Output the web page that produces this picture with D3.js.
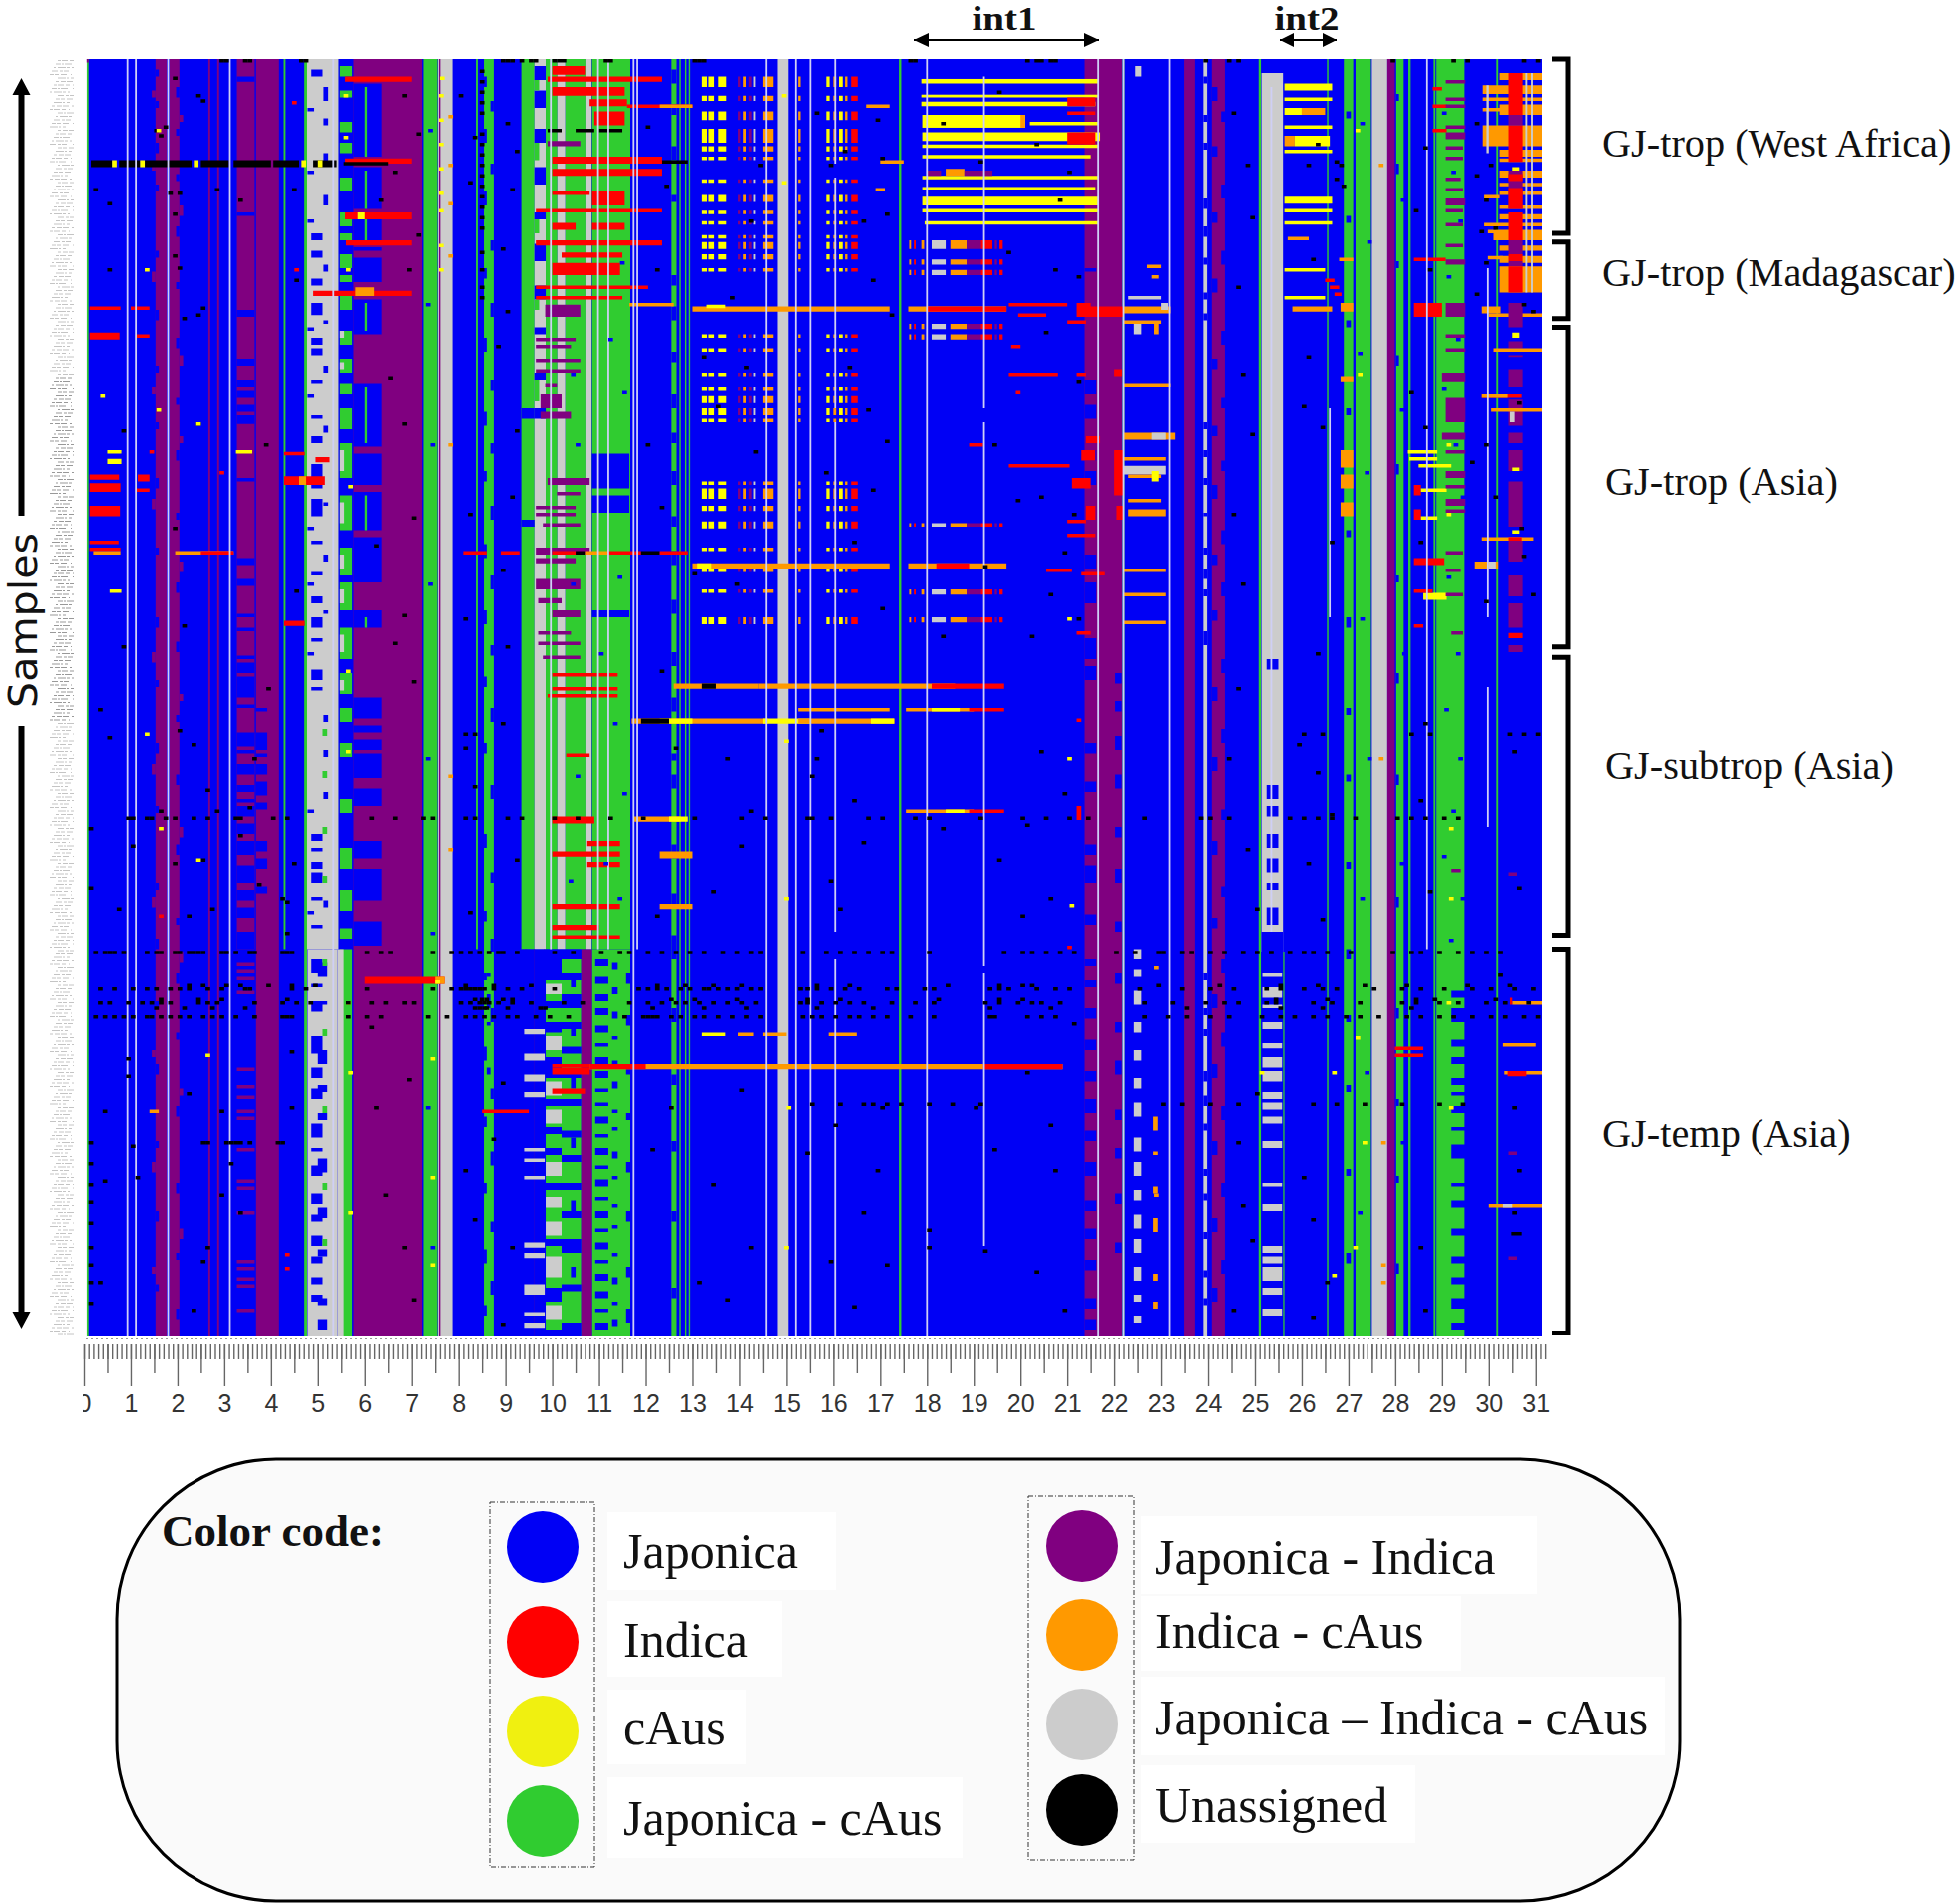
<!DOCTYPE html>
<html>
<head>
<meta charset="utf-8">
<script src="https://cdn.jsdelivr.net/npm/d3@7"></script>
<style>
  html, body { margin: 0; padding: 0; background: #fff; }
  svg { display: block; }
  .serif { font-family: "Liberation Serif", serif; fill: #111; }
</style>
</head>
<body>
<div id="chart"></div>
<script>
// ancestry classes
var categories = ["J", "I", "A", "JA", "JI", "IA", "G", "U"];
var categoryColors = ["#0000f5", "#ff0000", "#ffff00", "#30cc30", "#800080", "#ff9900", "#cccccc", "#000000"];
var legendLeft = ["Japonica", "Indica", "cAus", "Japonica - cAus"];
var legendLeftCodes = ["J", "I", "A", "JA"];
var legendRight = ["Japonica - Indica", "Indica - cAus", "Japonica \u2013 Indica - cAus", "Unassigned"];
var legendRightCodes = ["JI", "IA", "G", "U"];
var tickLabels = d3.range(0, 32);
var groupNames = ["GJ-trop (West Africa)", "GJ-trop (Madagascar)", "GJ-trop (Asia)", "GJ-subtrop (Asia)", "GJ-temp (Asia)"];
var groupRows = [[0, 50], [52.5, 74.5], [77, 168.5], [171.5, 251], [255, 365]];

// code, start Mb, end Mb, first row, last row
var columnBands = [
  ["JA",0.06,0.1,0,366],
  ["JI",1.53,1.77,0,366],["JI",1.83,2.04,0,366],
  ["JI",2.66,2.7,0,366],["JI",2.85,2.89,0,366],
  ["JI",3.27,3.65,0,255],["JI",3.68,4.17,0,366],
  ["JA",4.27,4.31,0,255],
  ["G",4.75,5.44,0,255],["G",4.78,5.42,255,366],["JA",4.71,4.77,0,366],
  ["JA",5.47,5.73,255,366],["G",5.42,5.55,255,366],
  ["JI",5.76,7.22,0,366],
  ["JA",7.25,7.55,0,366],["G",7.56,7.87,0,366],["JI",7.58,7.61,0,366],
  ["JA",8.37,8.41,0,255],["JA",8.54,8.75,0,366],
  ["JA",9.34,9.62,0,255],["G",9.62,9.86,0,255],["JA",9.86,10.11,0,255],["G",10.11,10.28,0,255],
  ["JA",10.28,10.71,0,255],["G",10.71,10.84,0,255],["JA",10.85,11.67,0,255],
  ["JA",10.85,11.67,255,366],
  ["JA",10.2,10.62,258,366],
  ["JI",9.42,9.45,255,366],["JI",9.6,9.63,255,366],["JI",9.82,9.85,255,366],["JI",10.62,10.85,255,366],
  ["JA",12.55,12.66,0,366],["JA",12.72,12.75,0,366],["JA",12.84,12.87,0,366],["JA",12.92,12.95,0,366],
  ["G",14.81,15.04,0,366],
  ["JA",17.4,17.45,0,366],
  ["JI",21.37,22.17,0,366],["JA",22.18,22.22,0,366],
  ["JI",23.49,23.72,0,366],["JI",24.08,24.36,0,366],
  ["G",25.14,25.6,4,256],["JA",25.08,25.13,0,366],["JA",25.6,25.63,256,366],
  ["JA",26.9,27.1,0,366],["JA",27.15,27.48,0,366],["G",27.5,27.83,0,366],["JI",27.83,27.99,0,366],
  ["JA",28.02,28.18,0,366],["JA",28.28,28.33,0,366],["JA",28.82,28.86,0,366],
  ["JA",28.88,29.48,0,366],["JA",30.16,30.2,0,366],["JA",26.54,26.57,0,366]
];

// code, start Mb, end Mb, then row pairs cut through the band
var columnCuts = [
  ["J",1.53,1.6,[3,5,12,14,24,27,36,38,55,57,72,75,88,90,104,106,120,123,140,142,160,163,178,180,196,199,214,216,236,238,252,255,270,272,288,291,310,312,330,333,351,353]],
  ["J",1.97,2.04,[8,11,20,22,33,35,48,51,64,66,80,83,97,99,112,115,130,132,150,153,167,170,188,190,205,208,225,228,246,248,262,265,279,281,300,303,322,325,342,344,358,361]],
  ["JI",1.45,1.53,[9,11,30,32,61,64,94,96,126,129,170,173,202,205,240,243,284,286,316,319,346,348]],
  ["JI",2.04,2.12,[16,18,42,45,85,88,108,110,144,147,182,184,220,223,256,259,295,297,335,338]],
  ["J",3.27,3.65,[5,6.5,44,45,72,74,86,88,92,94,95,97,99,101,102,104.5,120,121,143,145,149,151,159,160,163,164,171,172,173,176,177,183,185,186,193,197,198,199,202,205,208,210,212,213,214,217,219,222,224,228,231,236,238,241,243,246,250,255]],
  ["JI",3.27,3.65,[259,260,261,262,263,264,267,268,289,290,294,295,297,298,301,302,303,304,312,313,321,322,323,324,330,331,344,345,346,347,349,350,351,352,358,359]],
  ["J",3.68,3.92,[186,187,193,198,199,200,202,205,207,211,213,215,224,227,229,232,237,239]],
  ["J",4.86,5.1,[3,5,50,52,55,57,63,65,70,73.5,80,82,83,85,92,93,102,103,108,110,116,123,126,131,138,139,147,148,154,156,160,163,166,167,175,178,180,181,222,224,226,227,230,232,233,236,240,241,248,249,258,262,265,266,270,273,280,285,289,292,295,298,305,309,312,313,317,320,325,328,331,333,337,340,343,345,349,351,354,356]],
  ["J",5.0,5.2,[259,263,270,271,284,288,294,296,302,304,315,319,329,332,341,343,355,357,361,364]],
  ["J",4.78,4.92,[14,15,32,33,46,47,77,78,96,97,134,135,150,151,170,171,215,216,244,245]],
  ["J",5.12,5.22,[8,12,17,19,27,30,39,42,59,61,75,76,88,90,105,107,127,128,142,144,158,159,188,190,198,200,210,212,241,243]],
  ["JA",5.1,5.2,[192,194,204,206,220,222,234,236,258,260,278,280,300,302,322,324,338,340]],
  ["JA",5.47,5.73,[2,5,9,11,18,21,24,27,34,38,44,48,50,52,56,60,62,64,68,72,78,82,86,90,93,96,100,106,110,120,125,135,140,148,150,158,163,172,176,182,186,190,196,200,212,216,226,232,238,244,249,252]],
  ["G",5.47,5.56,[78,80,87,89,112,118,127,133,142,146,152,156,165,170,178,181]],
  ["J",5.76,6.36,[7,28,31,43,46,52,54,55,57,64,69,79,93,111,113,122,124,135,137,150,158,163,183,189,191,193,195,198,199,206,209,214,224,229,232,241,247,254]],
  ["JA",6.0,6.05,[8,28,32,43,46,52,70,78,94,110,125,135,160,163]],
  ["J",8.54,8.6,[5,8,20,24,38,42,60,63,80,84,101,105,118,121,139,143,158,162,177,180,196,199,222,226,244,247,262,264,283,287,303,306,322,325,341,345,357,360]],
  ["J",8.68,8.75,[12,15,30,33,52,55,70,74,92,95,110,113,128,132,148,152,168,171,186,190,208,212,233,236,252,256,272,276,295,298,313,317,333,336,350,354]],
  ["J",8.6,8.68,[262,263,268,272,276,277,289,291]],
  ["J",9.34,9.62,[100,103,132,134,255,366]],
  ["J",9.62,9.86,[2,6,9,14,20,24,31,36,44,46,53,58,65,69,77,79,90,92,100,103,255,366]],
  ["JA",9.62,9.72,[6,9,24,29,46,50,69,72,92,98]],
  ["J",9.86,10.2,[255,264,270,272,276,279,286,292,298,300,306,308,312,314,322,324,338,340,352,356,364,366]],
  ["J",10.2,10.62,[255,258,262,264,268,272,276,278,283,285,290,292,298,300,307,309,314,316,322,324,330,332,338,342,351,353,362,366]],
  ["JA",9.86,10.2,[264,270,272,276,279,286,292,298,300,306,308,312,314,322,324,338,340,352,356,364]],
  ["G",9.86,10.2,[265,268,280,284,293,297,301,305,316,320,326,329,333,337,343,349,357,361]],
  ["G",9.4,9.84,[278,279.5,285,287,291,293,296,297.5,312,313,315,316,320,321,339,340.5,342,343.5,351,354,359,360,362,363.5]],
  ["J",10.4,10.5,[262,266,277,280,291,295,309,312,327,330,346,349]],
  ["J",10.85,11.65,[113,123,125,130,158,160]],
  ["J",10.92,11.2,[258,260,263,265,268,270,272,274,277,279,282,283,286,288,290,292,295,296,299,300,303,305,308,309,312,314,317,318,321,323,326,327,330,332,335,336,339,341,344,345,348,350,353,355,358,359,362,364]],
  ["J",11.28,11.4,[259,261,266,268,273,275,280,281,287,288,293,295,301,302,306,307,313,315,320,321,328,329,334,335,342,343,349,351,356,357,361,363]],
  ["J",11.58,11.67,[262,265,274,277,288,291,302,304,316,319,330,333,346,349,358,362]],
  ["J",12.55,12.66,[3,7,13,16,25,29,39,41,62,65,71,75,84,87,96,100,107,110,118,122,131,134,141,145,155,159,170,174,183,187,199,201,205,209,225,229,239,243,251,258,272,276,291,294,310,313,330,333,352,355]],
  ["G",22.42,22.58,[255,258,261,263,267,271,276,279,284,287,292,295,299,303,309,313,316,320,324,327,331,335,338,342,346,350,354,356,360,362]],
  ["G",23.9,23.98,[0,366]],
  ["J",23.9,23.98,[5,7,16,18,24,26,40,43,48,51,57,59,67,69,73,75,104,106,112,114,120,122,130,131,140,142,146,149,152,154,164,168,262,264,272,274,278,280,290,293,297,300,305,307,318,320,325,327,336,338,347,349,355,357]],
  ["J",24.08,24.2,[8,12,25,28,44,47,63,67,86,89,105,108,122,126,142,145,158,161,180,184,200,204,224,228,246,249,268,272,288,292,310,314,332,336,352,356]],
  ["J",24.28,24.36,[15,18,36,40,55,59,78,82,97,100,115,118,135,139,150,154,172,176,192,196,215,218,237,240,258,262,279,283,300,304,322,326,344,348]],
  ["J",25.14,25.6,[0,4,250,366]],
  ["J",25.25,25.5,[172,175,208,212,214,217,222,226,229,233,236,238,243,248]],
  ["G",25.16,25.58,[262,263,266,269,271,272,276,278,282,283.5,286,289,290,293,296,298,299,301,303,305,310,312,322,323,328,330,340,342,343,345,346,350,352,354,358,360]],
  ["J",29.2,29.5,[267,269,272,276,281,283,286,288,292,294,296,297,300,302,306,307,311,315,322,323,327,329,335,337,343,345,349,351,355,358,362,364]],
  ["J",21.37,21.62,[60,61,92,96,99,103,112,115,118,122,142,146,150,156,166,172,174,178,196,199,207,210,225,228,231,236,245,248,258,260,264,266,272,275,281,284,290,293,298,302,307,310,316,320,327,330,335,338,344,347,355,358,361,364]],
  ["J",22.02,22.16,[176,179,184,187,194,198,205,209,220,223,232,236,247,250,262,265,276,279,287,291,301,304,312,315,325,328,339,342]],
  ["J",26.95,27.05,[15,17,45,47,75,77,100,102,135,137,160,163,186,188,205,207,230,232,255,258,274,276,294,296,318,320,342,345]],
  ["J",28.02,28.08,[10,12,30,33,58,60,85,88,116,119,148,150,176,179,205,208,240,243,272,275,298,300,320,322,345,348]]
];

// code, start Mb, end Mb, first row, last row
var rowStreaks = [
  ["I",0.12,0.78,71,72],["I",0.12,0.76,78.5,80.5],["I",0.12,0.75,119,120.5],["I",0.12,0.78,121.5,124],["I",0.12,0.77,128,131],
  ["I",0.12,0.74,138,139],["I",0.12,0.78,140,141],["IA",0.2,0.78,141,142],["A",0.5,0.8,112,113],["A",0.5,0.8,114.5,116],["A",0.55,0.8,152,153],
  ["I",1.0,1.4,71,72],["I",1.1,1.4,79,80],["I",1.1,1.4,123,124],["I",1.15,1.4,119,121],
  ["IA",1.95,3.2,141,142],["I",2.5,3.2,141,142],["A",3.25,3.6,112,113],
  ["I",4.28,4.72,112.5,113.5],["I",4.28,5.15,119.5,122],["IA",4.6,4.75,119.5,122],["I",4.28,4.72,161,162.5],["I",4.95,5.25,114,115.5],
  ["I",5.58,7.0,5,6.5],["I",5.58,7.0,28.5,30],["I",5.58,7.0,44,46],["A",5.85,6.0,44,46],["I",5.6,7.0,52,53.5],
  ["I",4.9,7.0,66.5,68],["IA",5.8,6.2,65.5,68],
  ["U",0.15,0.6,29,31],["U",0.75,1.2,29,31],["U",1.3,2.3,29,31],["U",2.5,3.1,29,31],["U",3.2,4.0,29,31],["U",4.05,4.6,29,31],["U",4.9,5.4,29,31],["U",5.55,6.5,29.5,30.5],["U",11.6,12.9,29,30],
  ["A",0.6,0.7,29,31],["A",1.2,1.3,29,31],["A",2.35,2.45,29,31],["A",4.65,4.75,29,31],["A",5.0,5.1,29,31],
  ["I",10.0,10.7,2,4.5],["I",9.9,12.35,5,6.5],["I",10.0,11.55,8,10.5],["I",10.8,11.6,11.5,13.5],["I",11.6,13.0,13,14],
  ["IA",12.3,13.0,13,14],["I",10.9,11.55,15,19],["U",9.9,10.2,20,21],["U",10.5,10.9,20,21],["U",11.0,11.5,20,21],
  ["I",10.0,12.35,28,30],["I",10.0,12.35,31.5,33.5],["I",10.0,10.8,38,39],["I",10.85,11.55,38,42],["I",9.65,12.35,43,44],
  ["I",10.0,10.5,47,49],["I",10.85,11.55,47,49],["I",9.65,12.35,52,53.5],["I",10.2,11.5,55.5,57],
  ["I",10.0,11.45,58.5,62],["I",9.65,12.05,65,66],["I",9.65,11.5,68,69],["IA",11.65,12.6,70,71],
  ["JI",9.9,10.6,23.5,25],["JI",9.85,10.6,70.5,74],["JI",9.65,10.5,80,81],["JI",9.65,10.4,82,83],["JI",9.65,10.6,86,87],["JI",9.65,10.6,89,90],
  ["JI",9.85,10.1,93,94],["JI",9.75,10.2,96,100],["JI",9.75,10.4,101,103],["JI",9.9,10.8,120,122],["JI",10.1,10.6,124,125],["JI",9.65,10.5,128,129],
  ["JI",9.65,10.5,130,131],["JI",9.8,10.6,133,134],["JI",9.65,10.8,140,142],["JI",9.65,10.5,143,144.5],["JI",9.65,10.6,149,152],["JI",9.7,10.2,154.5,156],
  ["JI",10.0,10.6,158,160],["JI",9.7,10.4,164,165],["JI",9.7,10.6,167,168],["JI",9.8,10.6,171,172],
  ["I",10.0,11.4,176,177],["I",10.0,11.4,180,181],["I",9.9,11.4,182,183],["I",10.3,10.8,199,200],
  ["I",10.0,10.9,217,219],["I",10.75,11.45,224,225.5],["I",10.0,11.45,227,228.5],["I",10.75,11.45,230,231.5],["I",10.0,11.45,242,243.5],["I",10.0,11.0,248,249.5],["I",10.0,11.45,251,252],
  ["I",8.1,8.6,141,142],["I",8.9,9.3,141,142],["I",10.0,10.5,141,142],["U",10.5,10.7,141,142],["IA",10.7,11.2,141,142],["I",11.2,11.9,141,142],["U",11.9,12.3,141,142],["I",12.3,12.9,141,142],
  ["I",6.0,7.7,263,265],["IA",7.5,7.7,263,265],["I",10.0,10.8,289,291],["I",10.0,11.4,288,289],["I",10.0,10.7,295,296.5],
  ["I",8.5,9.5,301,302],["IA",1.4,1.6,301,302],
  ["IA",10.8,20.9,288,289.5],["I",19.2,20.9,288,289.5],["I",10.8,12.0,288,289.5],
  ["IA",11.7,14.6,189,190.5],["A",12.3,13,189,190.5],["U",11.9,12.5,189,190.5],["A",14.5,15.5,189,190.5],["IA",15.25,17.3,189,190.5],["A",16.8,17.3,189,190.5],
  ["IA",11.75,12.75,217,218.5],["A",12.5,12.9,217,218.5],["IA",12.3,13.0,227,229],["IA",12.3,13.0,242,243.5],
  ["IA",13.0,17.2,71,72.5],["IA",17.6,19.7,71,72.5],["I",18,19.7,71,72.5],["A",13.3,13.7,70.5,71.5],
  ["IA",13.0,17.2,144.5,146],["IA",17.6,19.7,144.5,146],["I",18.2,18.9,144.5,146],["A",13.1,13.4,144.5,146],
  ["IA",12.6,14.4,179,180.5],["IA",14.4,18.6,179,180.5],["I",18.1,19.65,179,180.5],["U",13.2,13.5,179,180.5],
  ["IA",17.55,19.0,186,187],["I",18.9,19.65,186,187],["A",18.1,18.7,186,187],
  ["IA",17.55,19.0,215,216],["I",18.9,19.65,215,216],["A",18.4,18.8,215,216],["IA",15.25,17.2,186,187],
  ["IA",13.97,14.3,279,280],["A",13.2,13.7,279,280],["IA",14.5,15,279,280],["IA",15.9,16.5,279,280],
  ["A",17.88,21.66,5.7,7],["A",17.88,21.66,10.2,11],["A",17.88,21.6,12.2,13.5],["A",17.9,20.1,16,19.7],["IA",20.0,20.1,16,19.7],["A",20.2,21.66,18,19],
  ["A",17.9,21.7,21,23.5],["A",17.9,21.66,24.5,25.5],["A",17.9,21.5,27.5,28.5],["A",17.9,21.66,33.5,34.5],["A",17.9,21.6,36.7,37.5],
  ["A",17.9,21.66,39.5,42],["A",17.9,21.66,43,44],["A",17.95,21.66,46.5,47.5],
  ["I",21.0,21.6,11,13.5],["I",21.0,21.6,15,16],["I",21.0,21.6,21,24.5],["JI",18.0,18.3,32,33.5],["IA",18.4,18.8,31.5,33.5],["JI",18.8,19.4,32,33.5],
  ["IA",16.7,17.2,13,14],["IA",17.0,17.5,29,30],["IA",16.9,17.1,37,38],
  ["I",19.75,21.0,70,71],["I",19.95,20.55,73,74],["I",19.8,20.0,82,83],["I",19.75,20.8,90,91],["I",19.9,20.0,95,96],["I",18.9,19.2,110,111],
  ["I",19.75,21.05,116,117],["I",21.2,21.5,70,74],["I",21.0,21.4,75,76],["I",21.4,22.2,71,74],
  ["I",21.2,21.4,90,91],["I",22.0,22.17,89,91],["I",21.4,21.7,108,110],["I",21.3,21.6,112,115],["I",22.0,22.2,112,125],["I",21.1,21.5,120,123],["I",21.4,21.6,128,132],["I",22.05,22.2,128,132],
  ["I",21.0,21.4,132,133],["I",21.0,21.6,136,137],["I",20.55,21.1,146,147],["I",21.3,21.8,147,148],["I",21.2,21.5,164,165],
  ["I",21.0,21.1,254,255],["I",21.2,21.3,189,190],["I",21.2,21.3,214,218],
  ["IA",22.2,23.2,71,73],["G",23.0,23.15,70,72],["IA",22.2,23.0,75,76],["IA",22.2,23.2,93,94],["IA",22.2,23.3,107,109],["G",22.8,23.1,107,109],["IA",22.2,23.1,114,115],
  ["G",22.2,23.1,116.5,119],["IA",22.3,23.0,119,120],["A",22.8,22.95,118,121],["IA",22.3,23.0,126,127],["IA",22.3,23.1,129,131],["IA",22.2,23.1,146,147],["IA",22.2,23.1,153,154],["IA",22.2,23.1,161,162],
  ["G",22.42,22.58,76,79],["IA",22.85,22.95,76,79],["IA",22.7,23.0,59,60],["IA",22.8,22.95,62,63],["G",22.3,23.0,68,69],["G",22.45,22.58,2,5],
  ["IA",22.85,22.95,260,261],["IA",22.85,22.95,325,326],["IA",22.83,22.93,303,307],["IA",22.83,22.93,313,314],["IA",22.83,22.93,323,325],["IA",22.83,22.93,332,336],["IA",22.83,22.93,348,350],["IA",22.83,22.93,356,358],
  ["A",25.63,26.65,7,9],["A",25.63,26.65,11,12],["A",25.63,26.0,14,16],["IA",26.0,26.5,14,16],["A",25.63,26.65,19,20],["IA",25.63,25.85,22,25],["A",25.85,26.6,22,25],["A",25.63,26.65,26,27],
  ["A",25.63,26.65,39.5,41.5],["A",25.63,26.65,43,44],["A",25.63,26.65,46.5,47.5],["IA",25.7,26.15,51,52],["A",25.63,26.5,60,61],["A",25.63,26.5,68,69],["IA",25.8,26.65,71,72.5],
  ["I",26.5,26.7,63,64],["I",26.6,26.8,65,66],["I",26.7,26.85,67,68],
  ["IA",26.83,27.1,70,72.5],["IA",26.83,27.1,91,92.5],["IA",26.83,27.1,112,117],["IA",26.83,27.1,119,123],["IA",26.83,27.1,127,131],["IA",26.8,27.1,57,58],
  ["I",28.4,29.08,57,58],["I",28.4,29.0,70,74],["I",28.95,29.0,72,73],["JI",29.08,29.5,70,74],["I",28.4,29.05,143,145],
  ["A",28.27,28.9,112,113],["A",28.3,28.9,114,115],["A",28.5,29.2,116,117],["I",28.4,28.55,122,125],["A",28.55,29.1,123,124],
  ["I",28.4,28.55,129,132],["A",28.55,28.9,131,132],["A",28.6,29.1,153,155],["I",28.4,28.8,152,153],["I",28.4,28.6,162,163],
  ["I",28.8,29.0,8,9],["I",28.8,29.1,13,14],["I",28.8,29.1,20,21],
  ["JI",29.08,29.5,6,7],["JI",29.08,29.5,11,12],["JI",29.08,29.5,13,14],["JI",29.08,29.5,19,20],["JI",29.08,29.5,21,23],["JI",29.08,29.45,25,26],["JI",29.08,29.45,28,29],["JI",29.08,29.4,34,35],["JI",29.08,29.45,37,38],["JI",29.08,29.5,40,42],["JI",29.08,29.45,43,44],["JI",29.08,29.45,47,48],["JI",29.08,29.45,53,54],["JI",29.08,29.5,57.5,59],
  ["JI",29.08,29.5,79,80],["JI",29.08,29.5,83,84],["JI",29.0,29.5,90,92.5],["JI",29.08,29.5,97,104],["JI",29,29.5,107,109],["JI",29.08,29.5,112,113],["JI",29.08,29.5,118,120],["JI",29.08,29.5,122,123],["JI",29.08,29.5,126,128],["JI",29.08,29.5,129,130],["JI",29.08,29.45,141,142],["JI",29.08,29.4,146,147],["JI",29.08,29.45,153,154],["JI",29.2,29.45,164,165],["JI",29.2,29.4,232,233],
  ["IA",30.23,31.14,4,6],["IA",29.87,31.14,7.5,10],["IA",29.87,31.14,11,12],["IA",30.23,31.14,13,16],["IA",29.87,30.3,14,15],
  ["IA",29.87,31.14,19,25],["IA",30.23,31.14,26,28],["IA",30.23,31.14,28.5,29.5],["IA",30.23,31.14,32,34],["IA",30.23,31.14,35.5,36.5],["IA",30.23,31.14,38,39],["IA",29.9,30.23,39,40],
  ["IA",30.23,31.14,42,43],["IA",30.23,31.14,44.5,46],["IA",29.9,31.14,47,48],["IA",29.98,31.14,49,50],["IA",30.1,31.14,50,52],["IA",30.23,31.14,53.5,55],["IA",30.23,31.14,56.5,58.5],["IA",29.98,30.3,56.5,57.5],["IA",30.23,31.14,59.5,67],
  ["G",30.78,30.82,4,67],["G",30.9,30.94,4,67],["G",29.95,30.0,7.5,27],
  ["IA",30.0,31.14,73,74],["IA",29.85,30.25,71,73],["I",30.42,30.72,4,16],["I",30.42,30.72,19,28],["JI",30.42,30.72,16,19],["I",30.42,30.72,28,29.5],
  ["JI",30.42,30.72,32,43],["I",30.42,30.72,33,35],["I",30.42,30.72,37,43],["I",30.42,30.72,44,52],["JI",30.42,30.72,52,56],["I",30.42,30.72,56,58],["JI",30.42,30.72,58,59.5],["I",30.42,30.72,59.5,67],
  ["A",30.5,30.65,31,32],["JI",30.42,30.72,70,77],["JI",30.42,30.72,81,83],["JI",30.42,30.72,85,85.5],["JI",30.42,30.72,89,94],["JI",30.42,30.72,97.5,105],["JI",30.42,30.72,107,110],["JI",30.42,30.72,112,118],["JI",30.42,30.72,121,134],["JI",30.42,30.72,137,144],["JI",30.42,30.72,148,154],["JI",30.42,30.72,156,163],["I",30.42,30.72,164.5,166],["JI",30.42,30.72,168,170],
  ["IA",30.1,31.14,83,84],["I",29.85,30.7,96,97],["IA",29.85,30.4,96,97],["IA",30.05,31.14,100,101],["A",30.5,30.65,78.5,80],["G",30.45,30.55,101,104],["A",30.5,30.65,117,118],
  ["IA",29.85,30.95,137,138],["I",30.42,30.7,137,138],["IA",29.7,30.2,144,146],["G",30.0,30.15,144,146],["A",30.5,30.65,135,136],
  ["IA",30.5,31.14,270,271],["IA",30.3,31.0,282,283],["I",30.42,30.8,290,291],["IA",30.33,31.14,290,291],["I",30.4,30.8,290,291.5],["IA",30.0,31.14,328,329],["G",30.3,30.5,328,329],
  ["U",30.48,30.7,336,337],["I",30.45,30.5,269,271],["JI",30.42,30.6,233,234],["JI",30.42,30.6,313,314],["JI",30.42,30.6,343,344],
  ["I",27.99,28.6,283,284],["I",27.99,28.6,285,286]
];

// rows that repeat the same run of short pieces
var motifAPieces = [["A",13.2,13.31],["A",13.34,13.46],["A",13.55,13.72],["JI",13.97,14.02],["IA",14.08,14.14],["JI",14.2,14.26],["G",14.3,14.34],["IA",14.5,14.72],["IA",15.25,15.3],["A",15.85,15.92],["IA",16,16.06],["A",16.12,16.2],["IA",16.25,16.3],["I",16.38,16.52]];
var motifARows = [[5,8],[10.5,12],[15,17.5],[20,24],[25,26.5],[28,29],[34.5,35.5],[39,41],[43.5,44.5],[46.5,47.5],[50.5,51.5],[52.5,54.5],[56,57.5],[60,61],[79,80],[83,84],[90,91],[94,95],[96.5,98.5],[100,102],[103,104],[121,122],[123,126],[128,129.5],[132.5,134.5],[140,141],[145,147],[152,153],[160,162]];
var motifBPieces = [["IA",17.62,17.66],["I",17.72,17.76],["IA",17.88,17.94],["G",18.1,18.4],["IA",18.5,18.85],["JI",18.85,19.15],["I",19.15,19.4],["JI",19.45,19.5],["I",19.55,19.62]];
var motifBRows = [[52,54.5],[57.5,59],[60.5,62],[76,77.5],[79,80.5],[133,134],[152,153.5],[160,161.5]];

// pale thin lines: Mb, first row, last row
var paleLines = [[0.93,0,366],[1.11,0,366],[1.8,0,366],[3.12,0,366],[5.33,0,366],[11.74,0,366],[11.82,0,255],[14.57,0,366],[15.2,0,366],[15.51,0,366],[16.04,0,30],[16.04,34,100],[16.04,104,250],[16.04,258,366],[18,0,366],[19.22,5,100],[19.22,104,260],[19.22,262,340],[21.66,0,366],[22.2,0,366],[23.18,0,366],[29.98,60,160],[29.98,180,220],[25.35,8,250],[26.6,100,160],[9.97,0,255],[10.98,0,255],[11.2,0,255],[28.68,0,255]];

// black dots: Mb, row
var blackSpecks = [[2.4,10],[2.5,11.5],[1.9,5],[1.5,20],[1.7,19],[1.6,21.5],[2.0,38],[1.8,38],[0.5,41],[3.3,40],[2.8,37],[1.9,44],[1.9,56],[2,59.5],[0.5,60],[4.5,63],[2.4,73],[2.1,74],[2.5,71],[4.45,37],[0.2,37],[3.85,110],[2.4,104],[0.8,106],[2.1,162],[1.9,134],[3.9,180],[4.5,152],[0.8,168],
[0.3,186],[0.5,194],[2.0,192],[1.6,215],[2.3,196],[3.6,200],[2.8,215],[1.0,225],[1.9,230],[2.5,229],[3.3,222],[4.45,230],[4.2,240],[0.7,243],[3.7,236],[2.6,209],[4.3,241],[2.2,245],[3.5,214],[2.7,243],[4.3,250],
[0.1,220],[0.1,237],[0.1,310],[0.1,316],[0.1,322],[0.1,327],[0.1,333],[0.1,340],[0.1,345],[0.1,350],[0.1,356],[0.9,286],[0.9,291],[1.0,311],[1.1,320],[2.2,296],[2.6,310],[2.9,325],[2.5,344],[2.3,358],[0.4,301],[0.4,321],[0.3,350],[4.4,284],[4.4,300],[3.3,330],[2.9,301],[3.1,316],[2.6,340],
[6.8,10],[7.1,21],[6.6,32],[6.3,40],[6.9,60],[7.1,50],[6.5,91],[6.8,104],[7.0,131],[6.2,139],[6.6,167],[6.8,159],[7.0,178],[6.2,300],[6.4,325],[6.8,340],[7.0,355],[6.1,277],[6.9,292],
[8.0,10],[8.3,22],[8.2,35],[9.0,18],[9.1,37],[8.9,54],[9.2,26],[9.0,72],[8.8,82],[9.2,106],[8.2,130],[8.1,160],[9.1,125],[8.9,146],[9.0,168],[8.1,197],[8.3,208],[8.9,190],[9.2,229],[8.2,244],[8.1,318],[8.3,332],[9.1,340],[8.9,362],[8.7,309],[8.9,293],
[8.45,3],[8.45,6],[8.45,9],[8.45,12],[8.45,15],[8.45,21],[8.45,24],[8.45,27],[8.45,30],[8.45,33],[8.45,36],[8.45,39],[8.45,42],[8.45,45],[8.45,48],[8.45,55],[8.45,60],[8.45,65],[8.45,68],
[12.0,19],[12.4,36],[12.2,60],[13.2,85],[13.5,99],[12.0,110],[12.3,128],[13.0,147],[14.2,46],[14.4,30],[13.8,68],[14.1,88],[14.3,112],[12.3,175],[13.9,150],[12.6,197],[13.7,200],[14.2,215],[12.2,245],[13.4,238],[14.0,225],[12.5,300],[13.4,322],[14.2,340],[12.1,312],[13.1,350],[14.0,295],[13.7,355],
[15.6,15],[15.9,30],[16.2,26],[16.6,46],[16.9,17],[17.0,28],[17.1,44],[16.8,63],[17.2,73],[16.3,88],[16.7,100],[17.1,109],[15.8,118],[16.8,123],[16.4,138],[17.0,157],[15.5,205],[15.7,192],[16.4,212],[16.6,224],[15.9,235],[16.1,243],[15.6,200],[16.0,305],[15.4,313],[16.6,330],[15.9,344],[16.4,357],[17.0,300],[16.9,318],[17.1,345],
[18.3,18],[19.1,29],[19.5,9],[20.3,24],[21.0,32],[20.8,40],[19.4,110],[19.9,126],[21.1,130],[20.9,141],[21.2,92],[21.2,62],[20.5,78],[20.7,60],[19.7,55],[20.4,125],[19.2,145],[18.3,165],[20.2,165],[20.6,153],[21.2,160],[20.9,210],[20.4,198],[20.1,219],[19.5,229],[20,245],[18.3,220],[20.6,240],[20.1,290],[19,300],[19.4,312],[20.6,305],[20.7,318],[19.2,341],[20.3,347],[20.9,358],[21.1,276],[18.0,340],[18.0,335],
[24.5,15],[24.8,30],[24.9,45],[24.6,65],[24.7,90],[24.9,107],[24.5,130],[24.7,150],[24.6,180],[24.4,200],[24.8,226],[25.0,243],[24.6,310],[24.7,328],[24.9,338],[24.5,358],[25.0,296],
[26.1,30],[26.3,24],[26.7,34],[26.2,57],[26.0,99],[26.4,105],[26.1,85],[26.6,138],[26.3,170],[25.9,196],[26.3,204],[26.6,216],[26.1,230],[26.4,246],[26.0,320],[26.2,332],[26.5,350],[26.2,360],[26.7,29],[26.8,30],[26.85,36],
[28.6,25],[28.4,43],[28.7,60],[28.3,95],[28.6,105],[28.5,138],[28.6,190],[28.5,212],[28.7,238],[28.5,340],[28.6,358],[29.7,18],[29.7,33],[29.9,40],[30,30],[29.8,49],[30.1,48],[29.9,58],[29.7,67],[30.9,72],[30.7,70],[30.6,98],[30.7,142],[30.9,153],[30.65,134],[30.5,198],[30.6,237],[30.2,262],[30.5,300],[30.6,318],[30.5,330],[29.9,110],[30.1,125],[29.9,155],[29.6,115]
];
// other dots: code, Mb, row
var colorSpecks = [["A",1.55,20],["A",1.55,100],["A",0.35,96],["A",2.4,104],["I",1.4,112],["I",2.9,118],["I",4.45,12],["I",4.5,60],["A",1.3,60],["A",1.6,220],["I",1.6,245],["A",2.4,229],["A",1.3,193],["A",2.6,285],["I",4.3,342],["I",4.3,346],
["A",7.6,5],["A",7.58,10],["A",7.58,17],["A",7.58,24],["A",7.58,31],["A",7.58,38],["A",7.58,43],["A",7.58,53],["A",7.58,60],["IA",7.78,16],["IA",7.78,30],["IA",7.78,41],["IA",7.78,56],["IA",7.78,110],["IA",7.78,205],["IA",7.78,226],["A",7.4,320],["A",7.4,345],["A",7.4,286],["A",7.5,264],
["A",5.55,10],["A",5.55,22],["A",5.6,60],["A",5.65,122],["A",5.6,175],["A",5.6,198],["A",5.6,270],["A",5.65,290],["A",5.65,330],
["A",14.9,10],["A",14.9,35],["A",14.95,195],["A",14.95,240],["A",15,300],["A",14.95,340],["A",27.15,20],["A",27.2,90],["A",27.15,280],["A",27.3,310],["A",27.1,340],["IA",27.65,30],["IA",27.65,200],["IA",27.7,310],["IA",27.7,345],["IA",27.7,350],["A",29.1,110],["A",29.1,130],["A",29.15,220],["A",29.15,240],["A",29.1,270],["A",29.15,300],["A",26.65,290],["A",26.65,348],["A",25.1,290],["A",21.0,200],["A",21.05,242],["A",21,160],
["J",29.0,15],["J",29.2,32],["J",29.35,46],["J",29.1,62],["J",29.3,80],["J",29.0,94],["J",29.25,110],["J",29.4,125],["J",29.1,148],["J",29.3,170],["J",29.05,186],["J",29.35,200],["J",29.2,215],["J",29.0,228],["J",29.4,240],["J",29.15,252],
["J",27.25,18],["J",27.4,52],["J",27.2,84],["J",27.35,118],["J",27.25,160],["J",27.4,200],["J",27.25,240],["J",27.35,290],["J",27.2,330],["J",28.12,40],["J",28.1,100],["J",28.15,170],["J",28.1,230],["J",28.12,310],
["J",10.4,90],["J",10.5,110],["J",10.4,150],["J",11.0,170],["J",11.3,190],["J",11.5,210],["J",10.5,205],["J",11.1,230],["J",11.4,240],["J",10.35,235],["J",11.5,95],["J",11.2,80],["J",11.45,58],["J",11.4,148],
["J",7.35,20],["J",7.3,70],["J",7.4,110],["J",7.35,150],["J",7.3,200],["J",7.4,250],["J",7.3,300],["J",7.4,340],
["JI",0.0,0]];

// rows peppered with black across the whole window: row, Mb of each dot
var noisyRows = [
  [0,[2.9,3.0,3.4,3.5,4.6,4.7,8.9,9,9.1,9.3,9.5,9.6,10,10.1,10.2,11.1,11.2,13.0,13.1,13.2,17.6,17.7,20.1,20.3,20.4,20.6,20.7,23.9,24.4,24.6,27.9,29.2,29.5,30.7,31]],
  [255.5,[0.2,0.4,0.5,0.6,0.8,1.3,1.5,1.6,1.9,2.0,2.2,2.3,2.4,2.5,2.9,3.0,3.2,3.5,3.6,4.2,4.3,4.4,6.0,6.3,6.5,7.4,7.8,8,8.2,8.4,8.6,8.8,8.9,9.2,10,10.4,11,11.4,11.6,12,12.3,12.6,12.9,13.2,13.6,13.9,14.2,14.4,15.3,15.8,16.1,16.4,16.7,17.0,17.2,18.0,19.6,20,20.2,20.5,20.8,21.1,22,22.4,22.9,23,23.4,23.6,24,24.3,24.7,25,25.3,25.7,26,26.2,26.5,27,27.9,28.3,28.5,28.9,29.3,29.6,29.9,30.2]],
  [265,[2.2,2.5,3.0,3.3,3.9,4.4,4.9,8.1,8.7,9.5,12.2,12.8,13.4,14,15.6,16.3,18.4,19.5,20,20.2,22.9,24.2,25.5,26.3,27.3,28.2,29.5,30.4]],
  [266,[0.3,0.6,1.0,1.3,1.5,1.8,2.0,2.2,2.6,2.9,3.4,3.5,4.4,4.7,6.0,7.4,7.8,8.0,8.1,8.2,8.3,8.4,8.5,8.7,9.0,9.3,10.0,11.8,12,12.2,12.4,12.7,12.9,13.2,13.3,13.5,13.7,13.9,14.2,14.4,15.25,15.4,15.6,15.9,16.2,16.5,17.1,17.3,17.9,18.1,19.3,19.5,19.7,20.3,20.7,21.0,22.5,23.4,24,24.5,25.2,25.5,26,26.4,26.7,27.5,28.1,28.5,29,29.6,30,30.5,30.9]],
  [269,[1.6,2.4,2.9,4.3,8.3,8.45,8.55,8.9,9.1,12.5,13,13.9,15.4,16.1,18.2,19.5,20,25.4,26.5,28.4,28.8,30.1]],
  [270,[0.3,0.5,0.9,1.2,1.4,1.6,1.8,2.4,2.6,2.8,3.6,4.2,4.5,4.8,5.6,6.1,6.4,6.8,7.0,8.0,8.2,8.4,8.5,8.6,8.8,9.1,9.5,10.2,10.6,11.6,12,12.3,12.6,12.8,13.1,13.4,13.7,14,14.3,15.25,15.4,15.7,16,16.3,16.6,17.2,17.7,18.1,19.2,19.5,19.9,20.2,20.4,20.8,22.6,23.2,23.9,24.3,24.6,25.2,25.4,26.2,26.6,27.2,28.1,28.4,28.9,29.3,29.9,30.3,30.8]],
  [271.5,[1.5,2.1,2.7,3.4,8.3,8.4,8.5,8.55,9.0,9.7,9.8,12.1,13.2,14.1,15.6,16.8,19.3,20.6,23.5,25.5,26.4,28.3]],
  [274,[0.2,0.4,0.6,0.8,1.0,1.3,1.4,1.6,1.8,2.0,2.2,2.5,2.7,2.9,3.2,3.6,4.2,4.3,4.4,5.6,6.0,6.3,7.3,7.7,8.1,8.3,8.5,8.7,9.0,9.2,9.6,9.9,10.3,11.5,11.9,12,12.1,12.2,12.5,12.7,13,13.2,13.5,13.8,14.1,14.4,15.3,15.5,15.7,16,16.3,16.5,16.8,17.1,17.6,18.1,19.3,19.4,20.1,20.4,20.7,22.6,23.1,23.5,24,24.4,25.1,25.5,25.8,26.2,26.5,26.9,27.2,27.6,28.2,28.5,28.9,29.2,29.6,30,30.3,30.7,31]],
  [217,[0.9,1.0,1.3,1.4,1.7,1.9,2.3,2.6,3.2,3.3,4.0,4.3,6.1,6.6,7.2,7.4,8.1,8.3,9,9.3,10,10.5,11.2,11.9,13.0,14.0,14.5,15.4,15.5,15.9,16.7,17.0,17.7,18,19.1,20,20.5,21,21.4,22.6,23.8,24,24.4,25.7,26,26.3,26.6,27.1,28,28.3,28.6,29,29.3]],
  [193,[8.1,8.3,26.0,26.4,30.4,30.7,31,28.3,28.7]],
  [310,[2.5,3.0,3.1,3.2,3.3,3.5,4.1,4.2]],
  [299,[15.5,16.1,16.6,16.8,17.1,17.4,18,18.5,19.1,23,23.4,24,24.6,26.2,26.7,27.3,28.1,28.9,29.4]]
];

// layout
var svgWidth = 1960, svgHeight = 1909;
var plot = {left: 84, right: 1546, top: 59, bottom: 1340};

var color = d3.scaleOrdinal().domain(categories).range(categoryColors);
var x = d3.scaleLinear().domain([0, 31]).range([84, 84 + 31 * 46.96]);
var y = d3.scaleLinear().domain([0, 366]).range([plot.top, plot.bottom]);

var svg = d3.select("#chart").append("svg")
  .attr("width", svgWidth)
  .attr("height", svgHeight);

var defs = svg.append("defs");
defs.append("clipPath").attr("id", "plotClip").append("rect")
  .attr("x", x(0.06)).attr("y", plot.top)
  .attr("width", plot.right - x(0.06)).attr("height", plot.bottom - plot.top);
defs.append("clipPath").attr("id", "axisClip").append("rect")
  .attr("x", 83).attr("y", 1340).attr("width", 1800).attr("height", 100);

// flatten everything into one list of cells, in paint order
var cells = [["J", 0.06, 31.14, 0, 366]];
cells = cells.concat(columnBands);
columnCuts.forEach(function(c) {
  for (var i = 0; i < c[3].length; i += 2) {
    cells.push([c[0], c[1], c[2], c[3][i], c[3][i + 1]]);
  }
});
function addMotif(pieces, rows) {
  rows.forEach(function(r) {
    pieces.forEach(function(p) {
      cells.push([p[0], p[1], p[2], r[0], r[1]]);
    });
  });
}
addMotif(motifAPieces, motifARows);
addMotif(motifBPieces, motifBRows);
cells = cells.concat(rowStreaks);

var chart = svg.append("g").attr("clip-path", "url(#plotClip)");

chart.selectAll(".cell")
  .data(cells)
  .enter()
  .append("rect")
  .attr("class", "cell")
  .attr("x", function(d) { return x(d[1]); })
  .attr("y", function(d) { return y(d[3]); })
  .attr("width", function(d) { return x(d[2]) - x(d[1]); })
  .attr("height", function(d) { return y(d[4]) - y(d[3]); })
  .attr("fill", function(d) { return color(d[0]); });

chart.selectAll(".pale")
  .data(paleLines)
  .enter()
  .append("line")
  .attr("class", "pale")
  .attr("x1", function(d) { return x(d[0]); })
  .attr("x2", function(d) { return x(d[0]); })
  .attr("y1", function(d) { return y(d[1]); })
  .attr("y2", function(d) { return y(d[2]); })
  .attr("stroke", "#cfcff5")
  .attr("stroke-width", 1.8);

// dots, one grid cell each
var dots = [];
blackSpecks.forEach(function(d) { dots.push(["U", d[0], d[1]]); });
colorSpecks.forEach(function(d) { dots.push(d); });
noisyRows.forEach(function(r) {
  r[1].forEach(function(m) { dots.push(["U", m, r[0]]); });
});

chart.selectAll(".dot")
  .data(dots)
  .enter()
  .append("rect")
  .attr("class", "dot")
  .attr("x", function(d) { return x(d[1]); })
  .attr("y", function(d) { return y(d[2]); })
  .attr("width", x(0.1) - x(0))
  .attr("height", y(1) - y(0))
  .attr("fill", function(d) { return color(d[0]); });

// tiny sample ids, unreadable in the figure so only their ink is kept
var idDashes = ["3 1 6 2 4", "5 1 2 1 7", "2 2 8 1 3", "6 2 3 1 5", "4 1 4 2 6", "8 1 2 2 3", "3 2 5 1 6"];
svg.append("g").selectAll("line")
  .data(d3.range(0, 366))
  .enter()
  .append("line")
  .attr("x1", function(d, i) { return 74 - (i % 5) * 2 - 16; })
  .attr("x2", 74)
  .attr("y1", function(d) { return y(d) + 1.5; })
  .attr("y2", function(d) { return y(d) + 1.5; })
  .attr("stroke", function(d) { return d > 90 && d < 190 ? "#999" : "#c4c4c4"; })
  .attr("stroke-width", 1)
  .attr("stroke-dasharray", function(d, i) { return idDashes[i % idDashes.length]; });

// bottom ruler
var axisG = svg.append("g").attr("clip-path", "url(#axisClip)");
axisG.append("line")
  .attr("x1", 86).attr("x2", 1546).attr("y1", 1342.5).attr("y2", 1342.5)
  .attr("stroke", "#999").attr("stroke-width", 1.2).attr("stroke-dasharray", "2 3");

var minorTicks = d3.range(0, 313).map(function(d) { return d / 10; });
var midTicks = d3.range(0, 31).map(function(d) { return d + 0.5; });
axisG.append("g")
  .attr("transform", "translate(0,1348)")
  .call(d3.axisBottom(x).tickValues(minorTicks).tickSize(15).tickFormat(""))
  .call(function(g) { g.select(".domain").remove(); });
axisG.append("g")
  .attr("transform", "translate(0,1348)")
  .call(d3.axisBottom(x).tickValues(midTicks).tickSize(29).tickFormat(""))
  .call(function(g) { g.select(".domain").remove(); });
axisG.append("g")
  .attr("transform", "translate(0,1348)")
  .call(d3.axisBottom(x).tickValues(tickLabels).tickSize(42).tickPadding(8).tickFormat(function(d) { return d; }))
  .call(function(g) { g.select(".domain").remove(); });
axisG.selectAll(".tick line").attr("stroke", "#666").attr("stroke-width", 1.4);
axisG.selectAll(".tick text")
  .attr("font-family", "'Liberation Sans', sans-serif")
  .attr("font-size", 25)
  .attr("fill", "#333");

// group brackets and names
var bracketG = svg.append("g");
bracketG.selectAll("path")
  .data(groupRows)
  .enter()
  .append("path")
  .attr("d", function(d) {
    return "M1556," + y(d[0]) + "H1572V" + y(d[1]) + "H1556";
  })
  .attr("fill", "none")
  .attr("stroke", "#000")
  .attr("stroke-width", 5);

var groupLabelPos = [[1606, 145], [1606, 275], [1609, 484], [1609, 769], [1606, 1138]];
svg.append("g").selectAll("text")
  .data(groupNames)
  .enter()
  .append("text")
  .attr("class", "serif")
  .attr("x", function(d, i) { return groupLabelPos[i][0]; })
  .attr("y", function(d, i) { return groupLabelPos[i][1] + 12; })
  .attr("font-size", 40.3)
  .text(function(d) { return d; });

// arrows
function doubleArrow(x1, x2, yy, head, half, sw) {
  svg.append("line").attr("x1", x1).attr("x2", x2).attr("y1", yy).attr("y2", yy)
    .attr("stroke", "#000").attr("stroke-width", sw);
  svg.append("path").attr("d", "M" + x1 + "," + yy + "l" + head + "," + (-half) + "v" + (2 * half) + "z");
  svg.append("path").attr("d", "M" + x2 + "," + yy + "l" + (-head) + "," + (-half) + "v" + (2 * half) + "z");
}
doubleArrow(916, 1102, 40, 15, 7, 2);
doubleArrow(1283, 1340, 40, 14, 7, 2);

svg.selectAll(".intText")
  .data([["int1", 1007], ["int2", 1310]])
  .enter()
  .append("text")
  .attr("class", "serif intText")
  .attr("x", function(d) { return d[1]; })
  .attr("y", 29.5)
  .attr("text-anchor", "middle")
  .attr("font-size", 33)
  .attr("font-weight", "bold")
  .attr("textLength", 65)
  .attr("lengthAdjust", "spacingAndGlyphs")
  .text(function(d) { return d[0]; });

// samples arrow
svg.append("rect").attr("x", 18.5).attr("y", 90).attr("width", 6).attr("height", 427);
svg.append("rect").attr("x", 18.5).attr("y", 728).attr("width", 6).attr("height", 590);
svg.append("path").attr("d", "M21.5,78l-9,17h18z");
svg.append("path").attr("d", "M21.5,1332l-9,-17h18z");
svg.append("text")
  .attr("transform", "translate(37,622) rotate(-90)")
  .attr("text-anchor", "middle")
  .attr("font-family", "'DejaVu Sans', sans-serif")
  .attr("font-size", 39)
  .attr("textLength", 176)
  .attr("lengthAdjust", "spacingAndGlyphs")
  .attr("fill", "#111")
  .text("Samples");

// legend
var legend = svg.append("g");
legend.append("rect")
  .attr("x", 117).attr("y", 1463).attr("width", 1567).attr("height", 443)
  .attr("rx", 160).attr("ry", 160)
  .attr("fill", "#fafafa").attr("stroke", "#000").attr("stroke-width", 3);

legend.append("text")
  .attr("class", "serif")
  .attr("x", 162).attr("y", 1550)
  .attr("font-size", 45).attr("font-weight", "bold")
  .text("Color code:");

legend.append("rect").attr("x", 491).attr("y", 1506).attr("width", 105).attr("height", 366)
  .attr("fill", "none").attr("stroke", "#333").attr("stroke-dasharray", "5 2 1 2");
legend.append("rect").attr("x", 1031).attr("y", 1500).attr("width", 106).attr("height", 365)
  .attr("fill", "none").attr("stroke", "#333").attr("stroke-dasharray", "5 2 1 2");

var legendBoxesLeft = [[609, 1516, 229, 78], [609, 1605, 175, 76], [609, 1694, 139, 75], [609, 1782, 356, 81]];
var legendBoxesRight = [[1144, 1520, 397, 78], [1144, 1600, 321, 75], [1144, 1681, 525, 79], [1144, 1770, 275, 78]];
var leftCircleY = [1551, 1646, 1736, 1826];
var rightCircleY = [1550, 1639, 1729, 1815];
var leftTextY = [1572, 1661, 1749, 1840];
var rightTextY = [1578, 1652, 1739, 1827];

function legendColumn(names, codes, boxes, circleX, circleY, textX, textY) {
  var g = legend.append("g");
  g.selectAll("rect").data(boxes).enter().append("rect")
    .attr("x", function(d) { return d[0]; })
    .attr("y", function(d) { return d[1]; })
    .attr("width", function(d) { return d[2]; })
    .attr("height", function(d) { return d[3]; })
    .attr("fill", "#fff");
  g.selectAll("circle").data(codes).enter().append("circle")
    .attr("cx", circleX)
    .attr("cy", function(d, i) { return circleY[i]; })
    .attr("r", 36)
    .attr("fill", function(d) { return d == "A" ? "#f0f010" : color(d); });
  g.selectAll("text").data(names).enter().append("text")
    .attr("class", "serif")
    .attr("x", textX)
    .attr("y", function(d, i) { return textY[i]; })
    .attr("font-size", 50)
    .text(function(d) { return d; });
}
legendColumn(legendLeft, legendLeftCodes, legendBoxesLeft, 544, leftCircleY, 625, leftTextY);
legendColumn(legendRight, legendRightCodes, legendBoxesRight, 1085, rightCircleY, 1158, rightTextY);
</script>
</body>
</html>
